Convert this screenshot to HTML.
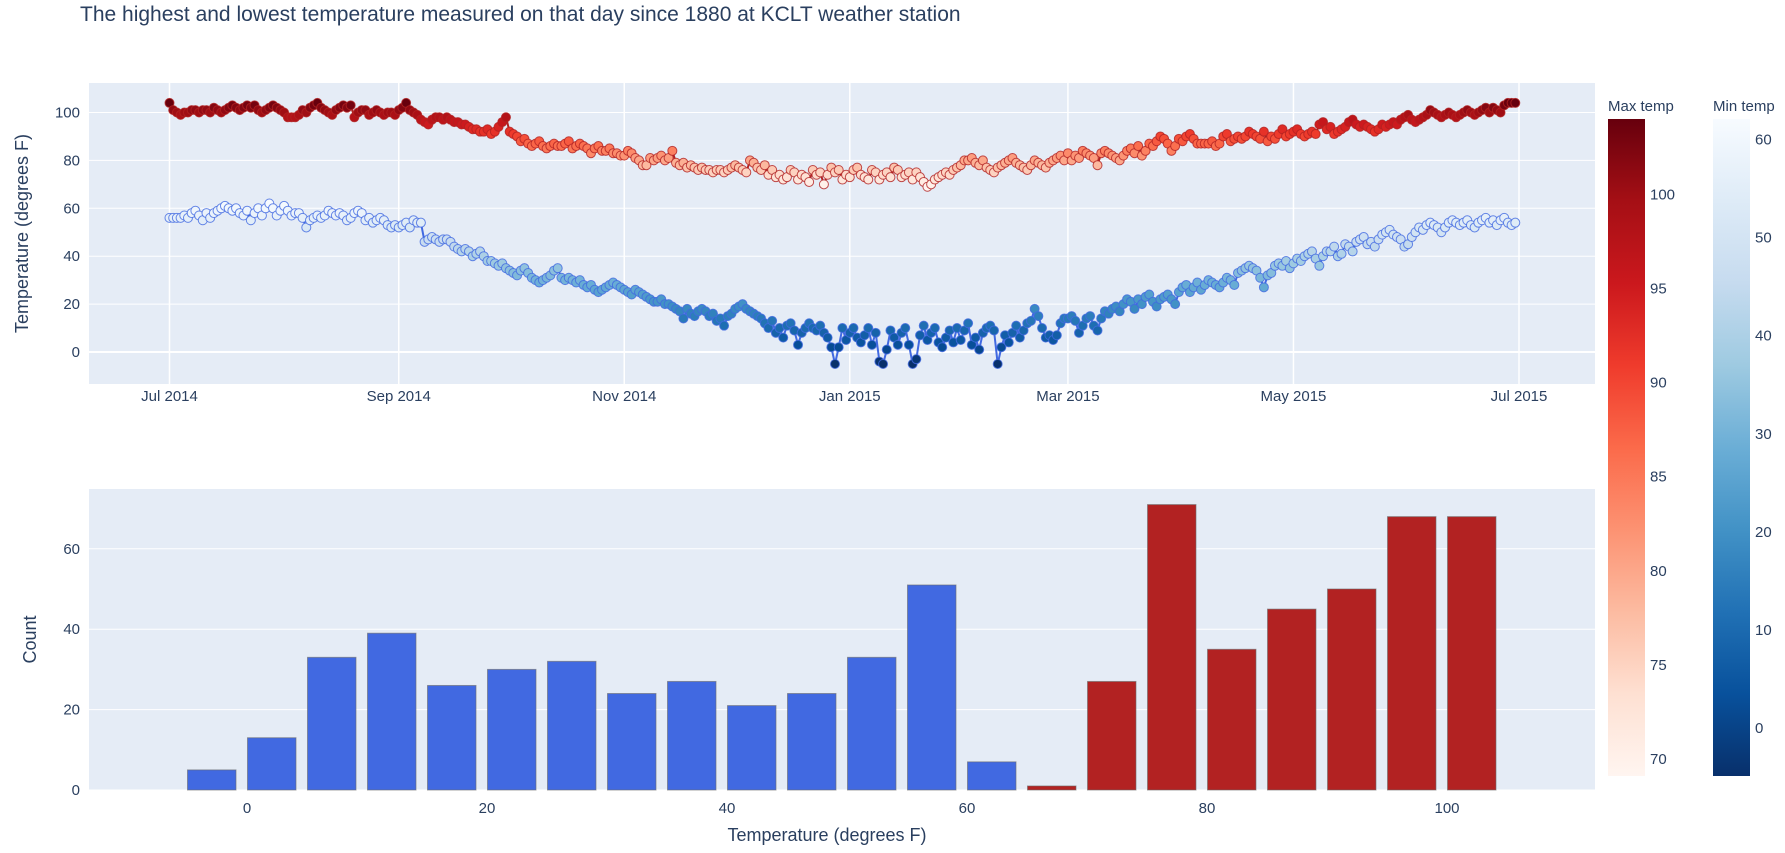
<!DOCTYPE html>
<html><head><meta charset="utf-8">
<style>
body{margin:0;background:#fff;font-family:"Liberation Sans",sans-serif;}
svg text{font-family:"Liberation Sans",sans-serif;fill:#2a3f5f;}
</style></head>
<body>
<svg id="chart" width="1785" height="848" xmlns="http://www.w3.org/2000/svg">
<defs>
<linearGradient id="redsGrad" x1="0" y1="1" x2="0" y2="0">
<stop offset="0" stop-color="#fff5f0"/><stop offset="0.125" stop-color="#fee0d2"/><stop offset="0.25" stop-color="#fcbba1"/><stop offset="0.375" stop-color="#fc9272"/><stop offset="0.5" stop-color="#fb6a4a"/><stop offset="0.625" stop-color="#ef3b2c"/><stop offset="0.75" stop-color="#cb181d"/><stop offset="0.875" stop-color="#a50f15"/><stop offset="1" stop-color="#67000d"/>
</linearGradient>
<linearGradient id="bluesGrad" x1="0" y1="0" x2="0" y2="1">
<stop offset="0" stop-color="#f7fbff"/><stop offset="0.125" stop-color="#deebf7"/><stop offset="0.25" stop-color="#c6dbef"/><stop offset="0.375" stop-color="#9ecae1"/><stop offset="0.5" stop-color="#6baed6"/><stop offset="0.625" stop-color="#4292c6"/><stop offset="0.75" stop-color="#2171b5"/><stop offset="0.875" stop-color="#08519c"/><stop offset="1" stop-color="#08306b"/>
</linearGradient>
</defs>
<text x="80" y="21" font-size="21">The highest and lowest temperature measured on that day since 1880 at KCLT weather station</text>
<g id="topPlot"></g>
<g id="bottomPlot"></g>
<g id="cbars"></g>
</svg>
<script>
// ---- data ----
const maxTemps = [
104,101,100,99,100,100,101,101,100,101,101,100,102,101,100,101,102,103,102,101,102,103,102,103,101,100,101,102,103,102,101,
100,98,98,98,99,101,100,102,103,104,102,101,100,99,101,102,103,102,103,98,100,101,101,99,100,101,100,99,100,100,99,
101,102,104,101,100,99,97,96,95,97,98,98,97,98,97,96,96,95,95,94,93,93,92,92,93,91,92,94,96,98,
92,91,90,88,89,87,86,87,88,86,85,86,87,86,86,87,88,85,86,87,86,85,83,85,86,84,84,85,83,83,82,
82,84,83,81,80,78,78,81,80,81,82,80,81,84,79,78,79,77,78,77,76,77,76,76,75,76,76,75,76,77,
78,77,76,75,80,79,77,76,78,74,76,73,74,72,73,76,75,72,74,73,71,76,74,75,70,74,77,75,76,72,74,
73,76,77,74,73,72,76,75,72,74,75,73,77,76,73,74,75,72,75,73,71,69,70,72,73,74,75,74,76,77,78,
80,80,81,79,78,80,77,76,75,77,78,79,80,81,79,78,77,76,78,80,79,78,77,79,80,81,82,80,
83,80,82,81,84,83,82,81,78,83,84,83,82,81,80,82,84,85,83,86,82,84,87,86,88,90,89,87,84,86,89,
88,90,91,89,87,87,87,87,88,86,87,90,91,88,89,90,89,90,92,91,90,89,92,88,90,89,91,93,90,91,
92,93,91,90,91,92,91,95,96,93,94,91,92,93,94,96,97,95,94,95,94,93,92,93,95,94,95,96,95,97,98,
99,97,96,97,98,99,101,100,99,98,99,100,99,98,99,100,101,100,99,100,101,102,100,102,101,100,103,104,104,104];
const minTemps = [
56,56,56,56,57,56,58,59,57,55,58,56,58,59,60,61,60,59,60,58,57,59,55,58,60,57,60,62,60,57,59,
61,59,57,58,58,56,52,55,56,57,56,57,59,58,57,58,57,55,56,58,59,58,55,56,54,55,56,55,53,52,53,
52,53,54,52,55,54,54,46,47,48,47,46,47,47,46,44,43,42,43,42,40,41,42,40,38,38,37,36,37,35,
34,33,32,34,35,33,31,30,29,30,31,32,34,35,31,30,31,30,29,30,28,27,28,26,25,26,27,28,29,28,27,
26,25,24,26,25,24,23,22,21,21,22,20,20,19,18,17,14,18,16,15,17,18,17,15,16,13,14,11,15,16,
18,19,20,18,17,16,15,14,12,10,13,8,10,6,11,12,9,3,8,10,12,10,9,11,8,6,2,-5,2,10,5,
8,10,6,4,7,10,3,8,-4,-5,1,9,6,3,8,10,3,-5,-3,7,11,5,8,10,4,2,6,9,4,10,5,
9,12,3,6,1,8,10,11,9,-5,2,7,4,8,11,6,9,12,13,18,15,10,6,7,5,7,12,14,
14,15,13,8,11,14,15,11,9,14,17,16,18,19,17,20,22,21,18,22,20,23,24,21,19,22,23,24,22,20,25,
27,28,25,27,29,26,28,30,29,28,27,29,31,30,28,33,34,35,36,35,34,31,27,32,33,36,37,36,38,35,
37,39,38,40,41,42,39,36,40,42,42,44,40,41,45,44,42,46,47,48,45,46,44,47,49,50,51,49,48,47,44,
45,48,50,52,51,53,54,53,52,50,52,54,55,54,53,54,55,53,52,54,55,56,54,55,53,55,56,54,53,54];
const dateTickLabels = ["Jul 2014","Sep 2014","Nov 2014","Jan 2015","Mar 2015","May 2015","Jul 2015"];
const dateTickDays = [0,62,123,184,243,304,365];
const topYTicks = [0,20,40,60,80,100];
const binStarts = [-5,0,5,10,15,20,25,30,35,40,45,50,55,60,65,70,75,80,85,90,95,100];
const binCounts = [5,13,33,39,26,30,32,24,27,21,24,33,51,7,1,27,71,35,45,50,68,68];
const binSeries = ["min","min","min","min","min","min","min","min","min","min","min","min","min","min","max","max","max","max","max","max","max","max"];
const histXTicks = [0,20,40,60,80,100];
const histYTicks = [0,20,40,60];
const maxCbTicks = [70,75,80,85,90,95,100];
const minCbTicks = [0,10,20,30,40,50,60];

const NS="http://www.w3.org/2000/svg";
function mk(tag, attrs, parent){const e=document.createElementNS(NS,tag);for(const k in attrs)e.setAttribute(k,attrs[k]);parent.appendChild(e);return e;}
const reds=["#fff5f0","#fee0d2","#fcbba1","#fc9272","#fb6a4a","#ef3b2c","#cb181d","#a50f15","#67000d"];
const blues=["#08306b","#08519c","#2171b5","#4292c6","#6baed6","#9ecae1","#c6dbef","#deebf7","#f7fbff"];
function hex(h){return [parseInt(h.substr(1,2),16),parseInt(h.substr(3,2),16),parseInt(h.substr(5,2),16)];}
function scale(cs,t){t=Math.max(0,Math.min(1,t));const p=t*(cs.length-1);const i=Math.min(cs.length-2,Math.floor(p));const f=p-i;const a=hex(cs[i]),b=hex(cs[i+1]);return "rgb("+a.map((v,k)=>Math.round(v+(b[k]-v)*f)).join(",")+")";}

// ---- top plot ----
const T={l:89,r:1595,t:83,b:384};
const xDay=d=>169.5+d*(1519-169.5)/365;
const yTop=v=>352-v*(352-112.5)/100;
const topG=document.getElementById('topPlot');
const tbg=mk('rect',{x:T.l,y:T.t,width:T.r-T.l,height:T.b-T.t,fill:'#e5ecf6'},topG);


topYTicks.forEach(v=>{
  const g=mk('line',{x1:T.l,x2:T.r,y1:yTop(v),y2:yTop(v),stroke:'#fff','stroke-width':v===0?2:1},topG);
  
  
  const t=mk('text',{x:T.l-9,y:yTop(v)+5,'text-anchor':'end','font-size':15},topG);t.textContent=v;
  
  
});
dateTickDays.forEach((d,i)=>{
  const g=mk('line',{x1:xDay(d),x2:xDay(d),y1:T.t,y2:T.b,stroke:'#fff','stroke-width':1.5},topG);
  
  
  const t=mk('text',{x:xDay(d),y:T.b+17,'text-anchor':'middle','font-size':15},topG);t.textContent=dateTickLabels[i];
  
  
});
const yt=mk('text',{x:28,y:(T.t+T.b)/2,'text-anchor':'middle','font-size':18,transform:`rotate(-90 28 ${(T.t+T.b)/2})`},topG);
yt.textContent='Temperature (degrees F)';



function series(vals,lineColor,cs,cmin,cmax,outline,name){
  const g=mk('g',{},topG);
  
  
  const pts=vals.map((v,i)=>xDay(i).toFixed(1)+","+yTop(v).toFixed(1)).join(" ");
  const pl=mk('polyline',{points:pts,fill:'none',stroke:lineColor,'stroke-width':2},g);
  
  
  vals.forEach((v,i)=>{
    const c=mk('circle',{cx:xDay(i),cy:yTop(v),r:4.5,fill:scale(cs,(v-cmin)/(cmax-cmin)),stroke:outline,'stroke-width':1,'stroke-opacity':0.8},g);
    
    
  });
}
series(maxTemps,'#b22222',reds,69.1,104,'#b22222','max-temp-series');
series(minTemps,'#4169e1',blues,-4.9,62.1,'#4169e1','min-temp-series');

// ---- histogram ----
const B={l:89,r:1595,t:489,b:790};
const xH=v=>247+v*12;
const yH=v=>790-v*4.02;
const botG=document.getElementById('bottomPlot');
const bbg=mk('rect',{x:B.l,y:B.t,width:B.r-B.l,height:B.b-B.t,fill:'#e5ecf6'},botG);


histYTicks.forEach(v=>{
  const g=mk('line',{x1:B.l,x2:B.r,y1:yH(v),y2:yH(v),stroke:'#fff','stroke-width':1},botG);
  
  
  const t=mk('text',{x:B.l-9,y:yH(v)+5,'text-anchor':'end','font-size':15},botG);t.textContent=v;
  
  
});
histXTicks.forEach(v=>{
  const t=mk('text',{x:xH(v),y:B.b+23,'text-anchor':'middle','font-size':15},botG);t.textContent=v;
  
  
});
binStarts.forEach((s,i)=>{
  const r=mk('rect',{x:xH(s)+0.5,y:yH(binCounts[i]),width:48.5,height:yH(0)-yH(binCounts[i]),fill:binSeries[i]==='min'?'#4169e1':'#b22222',stroke:'#6b6b6b','stroke-opacity':0.6,'stroke-width':1},botG);
  
  
});
const ht=mk('text',{x:36,y:(B.t+B.b)/2,'text-anchor':'middle','font-size':18,transform:`rotate(-90 36 ${(B.t+B.b)/2})`},botG);
ht.textContent='Count';


const hx=mk('text',{x:(B.l+B.r)/2-15,y:841,'text-anchor':'middle','font-size':18},botG);
hx.textContent='Temperature (degrees F)';



// ---- colorbars ----
const cb=document.getElementById('cbars');
function colorbar(x,grad,title,ticks,vTop,vBot,name){
  const g=mk('g',{},cb);
  
  
  const y0=119,y1=776;
  mk('rect',{x:x,y:y0,width:37,height:y1-y0,fill:`url(#${grad})`},g);
  const t=mk('text',{x:x,y:111,'font-size':15},g);t.textContent=title;
  
  
  ticks.forEach(v=>{
    const y=y0+(vTop-v)/(vTop-vBot)*(y1-y0);
    const tt=mk('text',{x:x+42,y:y+5,'font-size':15},g);tt.textContent=v;
    
    
  });
}
colorbar(1608,'redsGrad','Max temp',maxCbTicks,104,69.1,'max-temp-colorbar');
colorbar(1713,'bluesGrad','Min temp',minCbTicks,62.1,-4.9,'min-temp-colorbar');
</script>
</body></html>
